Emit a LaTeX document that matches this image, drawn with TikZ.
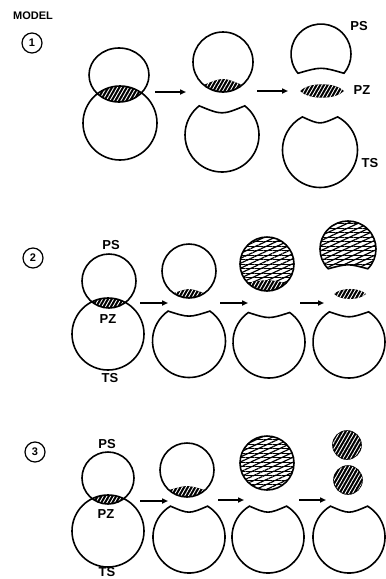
\documentclass[tikz,border=0pt]{standalone}
\usepackage{fontspec}
\setmainfont{Liberation Sans}
\usetikzlibrary{arrows.meta,patterns.meta}

\begin{document}
\begin{tikzpicture}[x=1pt, y=-1pt,
  body/.style={draw, line width=1.6pt},
  zone/.style={fill=black, postaction={pattern={Lines[angle=60,distance=3.2pt,line width=0.9pt]}, pattern color=white}},
  grown/.style={pattern={Lines[angle=25,distance=4.5pt,line width=1.2pt]}, postaction={pattern={Lines[angle=0,distance=4.5pt,line width=0.6pt]}}},
  tag/.style={font=\bfseries\fontsize{13}{13}\selectfont, inner sep=0pt},
  modelno/.style={draw, circle, line width=1.2pt, minimum size=20pt, inner sep=0pt, font=\bfseries\fontsize{11}{11}\selectfont},
  flow/.style={-{Triangle[length=6pt,width=5pt]}, line width=1.5pt},
  pics/ts/.style n args={3}{code={
    \draw[body] ({-90+#2}:#1) arc[start angle={-90+#2}, end angle={270-#2}, radius=#1]
      .. controls (0,{-#1*cos(#2)+1.333*#3}) .. cycle;
  }},
  pics/psc/.style n args={4}{code={
    \path[#4] (0,0) circle[radius=#1];
    \fill[zone] ({90-#2}:#1) arc[start angle={90-#2}, end angle={90+#2}, radius=#1]
      .. controls (0,{#1*cos(#2)-1.333*#3}) .. cycle;
    \draw[body] (0,0) circle[radius=#1];
  }},
  pics/psb/.style n args={4}{code={
    \draw[body,#4] ({180-#2}:#1) arc[start angle={180-#2}, end angle={360+#2}, radius=#1]
      .. controls (0,{#1*sin(#2)-1.333*#3}) .. cycle;
  }}]
  \useasboundingbox (0,0) rectangle (386,579);

  % model 1
  \node[font=\bfseries\fontsize{11}{11}\selectfont, inner sep=0pt] (model) at (33,16) {MODEL};
  \node[modelno] (m1) at (32,43) {1};
  \begin{scope}
    \clip (119,75) circle[x radius=30, y radius=27];
    \fill[zone] (120,123) circle[radius=37];
  \end{scope}
  \draw[body] (119,75) circle[x radius=30, y radius=27] (120,123) circle[radius=37];
  \pic at (223,62) {psc={30}{40}{6}{}};
  \pic at (222,135) {ts={37}{38}{7}};
  \pic at (321,54) {psb={30}{40}{5}{}};
  \fill[zone] (300,91) .. controls (309,82) and (335,82) .. (344,91)
    .. controls (335,100) and (309,100) .. cycle;
  \pic at (320,150) {ts={37.5}{28}{6}};
  \node[tag] (ps1) at (359,26) {PS};
  \node[tag] (pz1) at (362,90) {PZ};
  \node[tag] (ts1) at (370,163) {TS};
  \coordinate (r1a) at (155,92);
  \coordinate (r1b) at (186,92);
  \coordinate (r1c) at (257,91);
  \coordinate (r1d) at (288,91);
  \path[flow] (r1a) edge (r1b) (r1c) edge (r1d);

  % model 2
  \node[modelno] (m2) at (33,258) {2};
  \begin{scope}
    \clip (109,281) circle[radius=27];
    \fill[zone] (108,334) circle[radius=36];
  \end{scope}
  \draw[body] (109,281) circle[radius=27] (108,334) circle[radius=36];
  \pic at (189,271) {psc={27}{35}{4}{}};
  \pic at (189,341) {ts={36.5}{35}{5}};
  \pic at (267,264) {psc={27}{45}{3}{grown}};
  \pic at (269,342) {ts={36}{35}{5}};
  \pic at (348,249) {psb={28}{45}{4}{grown}};
  \fill[zone] (334,294) .. controls (341,287.3) and (359,287.3) .. (366,294)
    .. controls (359,300.7) and (341,300.7) .. cycle;
  \pic at (349,342) {ts={36}{33}{5}};
  \node[tag] (ps2) at (111,245) {PS};
  \node[tag] (pz2) at (108,319) {PZ};
  \node[tag] (ts2) at (110,378) {TS};
  \coordinate (r2a) at (140,303);
  \coordinate (r2b) at (168,303);
  \coordinate (r2c) at (220,303);
  \coordinate (r2d) at (248,303);
  \coordinate (r2e) at (300,303);
  \coordinate (r2f) at (324,303);
  \path[flow] (r2a) edge (r2b) (r2c) edge (r2d) (r2e) edge (r2f);

  % model 3
  \node[modelno] (m3) at (35,452) {3};
  \begin{scope}
    \clip (108,478) circle[radius=26];
    \fill[zone] (108,531) circle[radius=36];
  \end{scope}
  \draw[body] (108,478) circle[radius=26] (108,531) circle[radius=36];
  \pic at (187,470) {psc={27}{42}{4}{}};
  \pic at (189,537) {ts={36}{31}{6}};
  \draw[body,grown] (267,463) circle[radius=27];
  \pic at (268,537) {ts={36}{31}{6}};
  \draw[body,zone] (347,445) circle[radius=14] (348,480) circle[radius=14];
  \pic at (349,537) {ts={36}{31}{6}};
  \node[tag] (ps3) at (107,444) {PS};
  \node[tag] (pz3) at (106,514) {PZ};
  \node[tag] (ts3) at (107,572) {TS};
  \coordinate (r3a) at (140,501);
  \coordinate (r3b) at (168,501);
  \coordinate (r3c) at (218,500);
  \coordinate (r3d) at (244,500);
  \coordinate (r3e) at (299,500);
  \coordinate (r3f) at (326,500);
  \path[flow] (r3a) edge (r3b) (r3c) edge (r3d) (r3e) edge (r3f);
\end{tikzpicture}
\end{document}
